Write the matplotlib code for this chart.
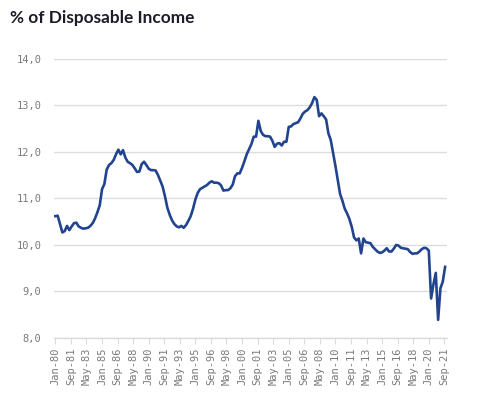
import numpy as np
import pandas as pd
import matplotlib
matplotlib.use("Agg")
import matplotlib.pyplot as plt
import matplotlib.dates as mdates
from matplotlib.ticker import FuncFormatter

# debt service, % of disposable income, quarterly from 1980Q1
values = [
    10.62, 10.63, 10.45, 10.27, 10.30, 10.41, 10.32, 10.40, 10.47, 10.48,
    10.40, 10.37, 10.35, 10.36, 10.37, 10.41, 10.47, 10.57, 10.70, 10.85,
    11.20, 11.31, 11.62, 11.72, 11.76, 11.83, 11.95, 12.05, 11.95, 12.04,
    11.88, 11.79, 11.76, 11.72, 11.65, 11.57, 11.58, 11.74, 11.79, 11.72,
    11.64, 11.61, 11.61, 11.60, 11.50, 11.38, 11.25, 11.04, 10.80, 10.65,
    10.53, 10.45, 10.40, 10.38, 10.41, 10.37, 10.43, 10.52, 10.62, 10.78,
    10.98, 11.12, 11.20, 11.23, 11.26, 11.29, 11.34, 11.37, 11.34, 11.34,
    11.33, 11.28, 11.17, 11.18, 11.18, 11.22, 11.30, 11.48, 11.54, 11.54,
    11.66, 11.80, 11.95, 12.06, 12.17, 12.33, 12.33, 12.67, 12.45, 12.37,
    12.34, 12.34, 12.33, 12.24, 12.11, 12.18, 12.19, 12.14, 12.22, 12.22,
    12.54, 12.55, 12.60, 12.62, 12.64, 12.72, 12.82, 12.87, 12.90, 12.96,
    13.05, 13.18, 13.12, 12.77, 12.83, 12.77, 12.70, 12.40, 12.26, 11.98,
    11.70, 11.40, 11.10, 10.95, 10.78, 10.68, 10.56, 10.39, 10.16, 10.10,
    10.14, 9.82, 10.14, 10.06, 10.05, 10.04, 9.96, 9.91, 9.86, 9.83,
    9.84, 9.88, 9.93, 9.86, 9.86, 9.92, 10.00, 9.99, 9.94, 9.93,
    9.92, 9.91, 9.85, 9.81, 9.82, 9.82, 9.86, 9.91, 9.94, 9.93,
    9.88, 8.85, 9.15, 9.40, 8.39, 9.07, 9.21, 9.53,
]
dates = pd.date_range("1980-01-01", periods=len(values), freq="QS")
tick_dates = pd.date_range("1980-01-01", "2021-09-01", freq="20MS")
y_ticks = [8, 9, 10, 11, 12, 13, 14]

line_color = "#22448f"
grid_color = "#dcdcdc"
label_color = "#7a7a7a"

fig = plt.figure(figsize=(4.97, 4.16), dpi=100)
ax = fig.add_axes([0.1087, 0.1875, 0.791, 0.6707])

ax.plot(dates, values, color=line_color, lw=1.9, solid_joinstyle="round")

ax.set_ylim(8, 14)
ax.set_yticks(y_ticks)
ax.yaxis.set_major_formatter(FuncFormatter(lambda v, p: ("%.1f" % v).replace(".", ",")))
ax.set_xlim(pd.Timestamp("1979-11-10"), pd.Timestamp("2021-12-20"))
ax.set_xticks(tick_dates)
ax.xaxis.set_major_formatter(mdates.DateFormatter("%b-%y"))

ax.grid(axis="y", color=grid_color, lw=1.0)
ax.set_axisbelow(True)
for s in ["left", "right", "top"]:
    ax.spines[s].set_visible(False)
ax.spines["bottom"].set_color(grid_color)
ax.spines["bottom"].set_linewidth(1.0)

ax.tick_params(axis="y", length=0, pad=9, labelsize=7.5, labelcolor=label_color)
ax.tick_params(axis="x", length=4, width=0.8, color=grid_color, pad=3,
               labelsize=7.5, labelcolor=label_color, labelrotation=90)
for lab in ax.get_xticklabels() + ax.get_yticklabels():
    lab.set_family("DejaVu Sans Mono")

fig.text(0.02, 0.975, "% of Disposable Income", fontsize=12.4, fontweight="bold",
         color="#1b1b2a", family=["Lato", "DejaVu Sans"], va="top", ha="left")

fig.savefig("out.png", dpi=100)
